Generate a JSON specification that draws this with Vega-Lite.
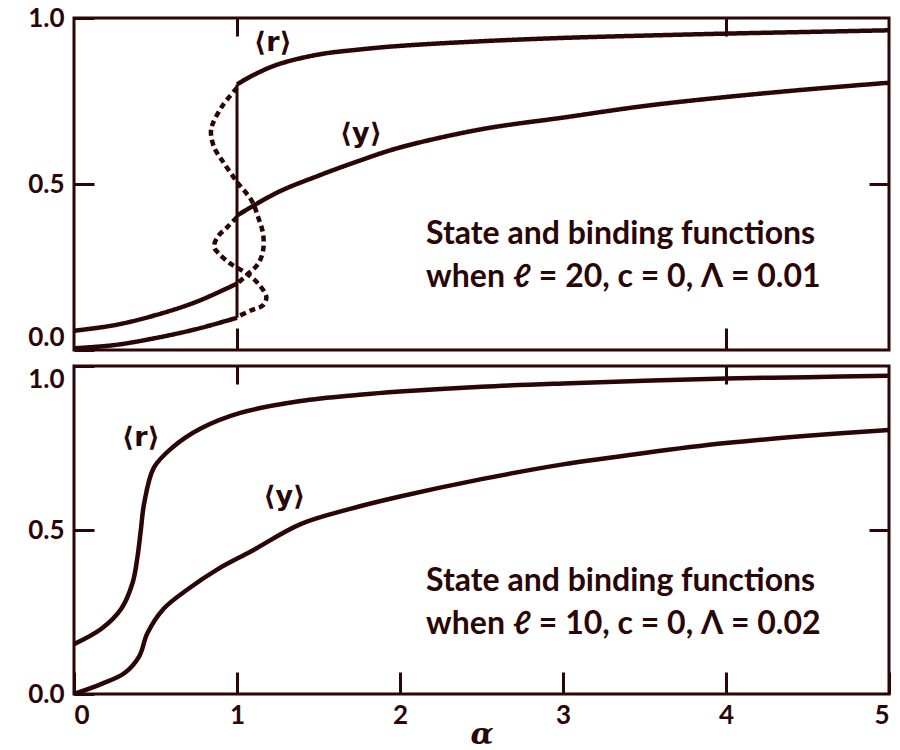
{
  "$schema": "https://vega.github.io/schema/vega-lite/v6.json",
  "padding": {"left": 26, "top": 3, "right": 5, "bottom": 0},
  "background": "white",
  "bounds": "flush",
  "config": {
    "view": {"stroke": "#2a0606", "strokeWidth": 3},
    "font": "Lato",
    "axis": {
      "domain": false,
      "grid": false,
      "tickColor": "#2a0606",
      "tickWidth": 3,
      "labelFont": "Lato",
      "labelFontWeight": "bold",
      "labelFontSize": 26,
      "labelColor": "#2a0606",
      "titleFont": "Lato",
      "titleColor": "#2a0606"
    }
  },
  "datasets": {
    "top": [
      {"b": "r_lo", "s": "solid", "i": 0, "x": 0, "y": 0.058},
      {"b": "r_lo", "s": "solid", "i": 1, "x": 0.25, "y": 0.075},
      {"b": "r_lo", "s": "solid", "i": 2, "x": 0.5, "y": 0.105},
      {"b": "r_lo", "s": "solid", "i": 3, "x": 0.75, "y": 0.145},
      {"b": "r_lo", "s": "solid", "i": 4, "x": 1.0, "y": 0.2},
      {"b": "y_lo", "s": "solid", "i": 0, "x": 0, "y": 0.005},
      {"b": "y_lo", "s": "solid", "i": 1, "x": 0.25, "y": 0.015},
      {"b": "y_lo", "s": "solid", "i": 2, "x": 0.5, "y": 0.036},
      {"b": "y_lo", "s": "solid", "i": 3, "x": 0.75, "y": 0.063},
      {"b": "y_lo", "s": "solid", "i": 4, "x": 1.0, "y": 0.097},
      {"b": "r_up", "s": "solid", "i": 0, "x": 1.0, "y": 0.8},
      {"b": "r_up", "s": "solid", "i": 1, "x": 1.1, "y": 0.828},
      {"b": "r_up", "s": "solid", "i": 2, "x": 1.25, "y": 0.86},
      {"b": "r_up", "s": "solid", "i": 3, "x": 1.5, "y": 0.89},
      {"b": "r_up", "s": "solid", "i": 4, "x": 1.75, "y": 0.905},
      {"b": "r_up", "s": "solid", "i": 5, "x": 2.0, "y": 0.916},
      {"b": "r_up", "s": "solid", "i": 6, "x": 2.5, "y": 0.93},
      {"b": "r_up", "s": "solid", "i": 7, "x": 3.0, "y": 0.94},
      {"b": "r_up", "s": "solid", "i": 8, "x": 3.5, "y": 0.947},
      {"b": "r_up", "s": "solid", "i": 9, "x": 4.0, "y": 0.953},
      {"b": "r_up", "s": "solid", "i": 10, "x": 4.5, "y": 0.958},
      {"b": "r_up", "s": "solid", "i": 11, "x": 5.0, "y": 0.963},
      {"b": "y_up", "s": "solid", "i": 0, "x": 1.0, "y": 0.405},
      {"b": "y_up", "s": "solid", "i": 1, "x": 1.25, "y": 0.475},
      {"b": "y_up", "s": "solid", "i": 2, "x": 1.5, "y": 0.525},
      {"b": "y_up", "s": "solid", "i": 3, "x": 1.75, "y": 0.57},
      {"b": "y_up", "s": "solid", "i": 4, "x": 2.0, "y": 0.61},
      {"b": "y_up", "s": "solid", "i": 5, "x": 2.5, "y": 0.665},
      {"b": "y_up", "s": "solid", "i": 6, "x": 3.0, "y": 0.7},
      {"b": "y_up", "s": "solid", "i": 7, "x": 3.5, "y": 0.735},
      {"b": "y_up", "s": "solid", "i": 8, "x": 4.0, "y": 0.762},
      {"b": "y_up", "s": "solid", "i": 9, "x": 4.5, "y": 0.785},
      {"b": "y_up", "s": "solid", "i": 10, "x": 5.0, "y": 0.805},
      {"b": "r_mid", "s": "dashed", "i": 0, "x": 1.0, "y": 0.79},
      {"b": "r_mid", "s": "dashed", "i": 1, "x": 0.91, "y": 0.735},
      {"b": "r_mid", "s": "dashed", "i": 2, "x": 0.85, "y": 0.68},
      {"b": "r_mid", "s": "dashed", "i": 3, "x": 0.84, "y": 0.655},
      {"b": "r_mid", "s": "dashed", "i": 4, "x": 0.86, "y": 0.61},
      {"b": "r_mid", "s": "dashed", "i": 5, "x": 0.91, "y": 0.57},
      {"b": "r_mid", "s": "dashed", "i": 6, "x": 0.98, "y": 0.52},
      {"b": "r_mid", "s": "dashed", "i": 7, "x": 1.01, "y": 0.5},
      {"b": "r_mid", "s": "dashed", "i": 8, "x": 1.09, "y": 0.45},
      {"b": "r_mid", "s": "dashed", "i": 9, "x": 1.13, "y": 0.4},
      {"b": "r_mid", "s": "dashed", "i": 10, "x": 1.16, "y": 0.35},
      {"b": "r_mid", "s": "dashed", "i": 11, "x": 1.16, "y": 0.3},
      {"b": "r_mid", "s": "dashed", "i": 12, "x": 1.13, "y": 0.26},
      {"b": "r_mid", "s": "dashed", "i": 13, "x": 1.07, "y": 0.23},
      {"b": "r_mid", "s": "dashed", "i": 14, "x": 1.0, "y": 0.2},
      {"b": "y_mid", "s": "dashed", "i": 0, "x": 1.0, "y": 0.4},
      {"b": "y_mid", "s": "dashed", "i": 1, "x": 0.94, "y": 0.37},
      {"b": "y_mid", "s": "dashed", "i": 2, "x": 0.88, "y": 0.34},
      {"b": "y_mid", "s": "dashed", "i": 3, "x": 0.86, "y": 0.31},
      {"b": "y_mid", "s": "dashed", "i": 4, "x": 0.89, "y": 0.29},
      {"b": "y_mid", "s": "dashed", "i": 5, "x": 0.96, "y": 0.26},
      {"b": "y_mid", "s": "dashed", "i": 6, "x": 1.06, "y": 0.23},
      {"b": "y_mid", "s": "dashed", "i": 7, "x": 1.13, "y": 0.2},
      {"b": "y_mid", "s": "dashed", "i": 8, "x": 1.18, "y": 0.16},
      {"b": "y_mid", "s": "dashed", "i": 9, "x": 1.16, "y": 0.135},
      {"b": "y_mid", "s": "dashed", "i": 10, "x": 1.09, "y": 0.12},
      {"b": "y_mid", "s": "dashed", "i": 11, "x": 1.0, "y": 0.1}
    ],
    "bottom": [
      {"b": "r", "s": "solid", "i": 0, "x": 0, "y": 0.152},
      {"b": "r", "s": "solid", "i": 1, "x": 0.166, "y": 0.198},
      {"b": "r", "s": "solid", "i": 2, "x": 0.29, "y": 0.26},
      {"b": "r", "s": "solid", "i": 3, "x": 0.36, "y": 0.34},
      {"b": "r", "s": "solid", "i": 4, "x": 0.39, "y": 0.42},
      {"b": "r", "s": "solid", "i": 5, "x": 0.41, "y": 0.5},
      {"b": "r", "s": "solid", "i": 6, "x": 0.43, "y": 0.58},
      {"b": "r", "s": "solid", "i": 7, "x": 0.49, "y": 0.69},
      {"b": "r", "s": "solid", "i": 8, "x": 0.6, "y": 0.75},
      {"b": "r", "s": "solid", "i": 9, "x": 0.78, "y": 0.81},
      {"b": "r", "s": "solid", "i": 10, "x": 1.02, "y": 0.857},
      {"b": "r", "s": "solid", "i": 11, "x": 1.39, "y": 0.893},
      {"b": "r", "s": "solid", "i": 12, "x": 1.75, "y": 0.912},
      {"b": "r", "s": "solid", "i": 13, "x": 2.0, "y": 0.922},
      {"b": "r", "s": "solid", "i": 14, "x": 2.5, "y": 0.937},
      {"b": "r", "s": "solid", "i": 15, "x": 3.0, "y": 0.947},
      {"b": "r", "s": "solid", "i": 16, "x": 3.5, "y": 0.955},
      {"b": "r", "s": "solid", "i": 17, "x": 4.0, "y": 0.962},
      {"b": "r", "s": "solid", "i": 18, "x": 4.5, "y": 0.966},
      {"b": "r", "s": "solid", "i": 19, "x": 5.0, "y": 0.97},
      {"b": "y", "s": "solid", "i": 0, "x": 0, "y": 0.0},
      {"b": "y", "s": "solid", "i": 1, "x": 0.166, "y": 0.03},
      {"b": "y", "s": "solid", "i": 2, "x": 0.31, "y": 0.064},
      {"b": "y", "s": "solid", "i": 3, "x": 0.4, "y": 0.115},
      {"b": "y", "s": "solid", "i": 4, "x": 0.45, "y": 0.185},
      {"b": "y", "s": "solid", "i": 5, "x": 0.55, "y": 0.26},
      {"b": "y", "s": "solid", "i": 6, "x": 0.7, "y": 0.32},
      {"b": "y", "s": "solid", "i": 7, "x": 0.88, "y": 0.38},
      {"b": "y", "s": "solid", "i": 8, "x": 1.09, "y": 0.436},
      {"b": "y", "s": "solid", "i": 9, "x": 1.39, "y": 0.518},
      {"b": "y", "s": "solid", "i": 10, "x": 1.7, "y": 0.565},
      {"b": "y", "s": "solid", "i": 11, "x": 2.0, "y": 0.602},
      {"b": "y", "s": "solid", "i": 12, "x": 2.5, "y": 0.655},
      {"b": "y", "s": "solid", "i": 13, "x": 3.0, "y": 0.7},
      {"b": "y", "s": "solid", "i": 14, "x": 3.5, "y": 0.735},
      {"b": "y", "s": "solid", "i": 15, "x": 4.0, "y": 0.765},
      {"b": "y", "s": "solid", "i": 16, "x": 4.5, "y": 0.787},
      {"b": "y", "s": "solid", "i": 17, "x": 5.0, "y": 0.805}
    ],
    "topText": [
      {"t": "⟨r⟩", "x": 1.22, "y": 0.925, "k": "sym"},
      {"t": "⟨y⟩", "x": 1.76, "y": 0.65, "k": "sym"},
      {"t": "State and binding functions", "x": 2.16, "y": 0.35, "k": "cap"},
      {"t": "when ℓ = 20, c = 0, Λ = 0.01", "x": 2.16, "y": 0.22, "k": "cap"}
    ],
    "bottomText": [
      {"t": "⟨r⟩", "x": 0.41, "y": 0.78, "k": "sym"},
      {"t": "⟨y⟩", "x": 1.29, "y": 0.6, "k": "sym"},
      {"t": "State and binding functions", "x": 2.16, "y": 0.345, "k": "cap"},
      {"t": "when ℓ = 10, c = 0, Λ = 0.02", "x": 2.16, "y": 0.213, "k": "cap"}
    ],
    "vline": [
      {"x": 1, "y": 0.097, "y2": 0.8}
    ]
  },
  "vconcat": [
    {
      "width": 815,
      "height": 332,
      "resolve": {"axis": {"x": "independent", "y": "independent"}},
      "layer": [
        {
          "data": {"name": "top"},
          "mark": {"type": "line", "strokeWidth": 4.5, "color": "#2a0606", "interpolate": "catmull-rom"},
          "encoding": {
            "x": {"field": "x", "type": "quantitative", "scale": {"domain": [0, 5], "nice": false},
                  "axis": {"orient": "bottom", "values": [1, 4], "labels": false, "tickSize": -22, "title": null}},
            "y": {"field": "y", "type": "quantitative", "scale": {"domain": [0, 1], "nice": false},
                  "axis": {"orient": "left", "values": [0, 0.5, 1], "format": ".1f", "tickSize": -20, "labelPadding": 30, "title": null,
                           "labelBaseline": {"condition": {"test": "datum.value == 0", "value": "bottom"}, "value": "middle"}}},
            "detail": {"field": "b"},
            "order": {"field": "i"},
            "strokeDash": {"field": "s", "type": "nominal", "scale": {"domain": ["solid", "dashed"], "range": [[1, 0], [6, 4]]}, "legend": null}
          }
        },
        {
          "data": {"name": "vline"},
          "mark": {"type": "rule", "strokeWidth": 3, "color": "#2a0606"},
          "encoding": {
            "x": {"field": "x", "type": "quantitative", "axis": {"orient": "top", "values": [1, 4], "labels": false, "tickSize": -18, "title": null}},
            "y": {"field": "y", "type": "quantitative", "axis": {"orient": "right", "values": [0.5], "labels": false, "tickSize": -20, "title": null}},
            "y2": {"field": "y2"}
          }
        },
        {
          "data": {"name": "topText"},
          "transform": [{"filter": "datum.k == 'sym'"}],
          "mark": {"type": "text", "font": "DejaVu Sans", "fontSize": 27, "fontWeight": "bold", "color": "#2a0606", "align": "center", "baseline": "middle"},
          "encoding": {
            "x": {"field": "x", "type": "quantitative", "axis": null},
            "y": {"field": "y", "type": "quantitative", "axis": null},
            "text": {"field": "t"}
          }
        },
        {
          "data": {"name": "topText"},
          "transform": [{"filter": "datum.k == 'cap'"}],
          "mark": {"type": "text", "font": "Lato", "fontSize": 32, "fontWeight": "bold", "color": "#2a0606", "align": "left", "baseline": "middle"},
          "encoding": {
            "x": {"field": "x", "type": "quantitative", "axis": null},
            "y": {"field": "y", "type": "quantitative", "axis": null},
            "text": {"field": "t"}
          }
        }
      ]
    },
    {
      "width": 815,
      "height": 328,
      "resolve": {"axis": {"x": "independent", "y": "independent"}},
      "layer": [
        {
          "data": {"name": "bottom"},
          "mark": {"type": "line", "strokeWidth": 4.5, "color": "#2a0606", "interpolate": "catmull-rom"},
          "encoding": {
            "x": {"field": "x", "type": "quantitative", "scale": {"domain": [0, 5], "nice": false},
                  "axis": {"orient": "bottom", "values": [0, 1, 2, 3, 4, 5], "format": "d", "tickSize": -22, "labelPadding": 30, "title": "α", "titleFont": "DejaVu Serif", "titleFontSize": 30, "titleFontStyle": "italic", "titleFontWeight": "bold", "titleY": 40, "titleBaseline": "middle"}},
            "y": {"field": "y", "type": "quantitative", "scale": {"domain": [0, 1], "nice": false},
                  "axis": {"orient": "left", "values": [0, 0.5, 1], "format": ".1f", "tickSize": -20, "labelPadding": 30, "title": null,
                           "labelBaseline": {"condition": {"test": "datum.value == 1", "value": "top"}, "value": "middle"}}},
            "detail": {"field": "b"},
            "order": {"field": "i"}
          }
        },
        {
          "data": {"name": "bottomText"},
          "transform": [{"filter": "datum.k == 'sym'"}],
          "mark": {"type": "text", "font": "DejaVu Sans", "fontSize": 27, "fontWeight": "bold", "color": "#2a0606", "align": "center", "baseline": "middle"},
          "encoding": {
            "x": {"field": "x", "type": "quantitative", "axis": {"orient": "top", "values": [1, 4], "labels": false, "tickSize": -18, "title": null}},
            "y": {"field": "y", "type": "quantitative", "axis": {"orient": "right", "values": [0.5], "labels": false, "tickSize": -20, "title": null}},
            "text": {"field": "t"}
          }
        },
        {
          "data": {"name": "bottomText"},
          "transform": [{"filter": "datum.k == 'cap'"}],
          "mark": {"type": "text", "font": "Lato", "fontSize": 32, "fontWeight": "bold", "color": "#2a0606", "align": "left", "baseline": "middle"},
          "encoding": {
            "x": {"field": "x", "type": "quantitative", "axis": null},
            "y": {"field": "y", "type": "quantitative", "axis": null},
            "text": {"field": "t"}
          }
        }
      ]
    }
  ],
  "spacing": 16
}
